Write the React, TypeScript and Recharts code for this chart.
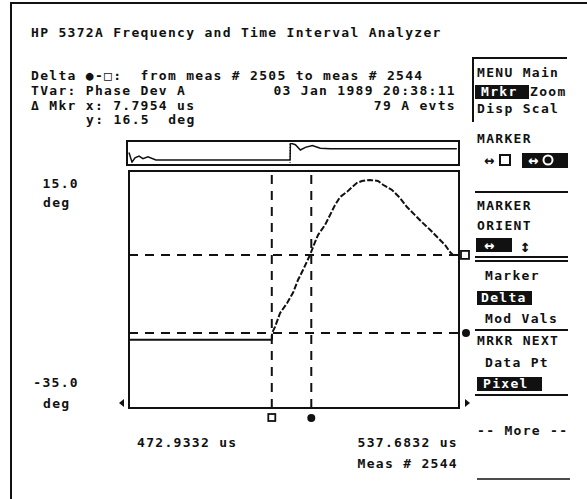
import React from 'react';
import { ComposedChart, LineChart, Line, XAxis, YAxis, ReferenceLine, ReferenceArea } from 'recharts';

// main trace, phase deviation vs time
const flatTimeUs = [472.9332, 500.99];
const flatPhaseDeg = [-20.6, -20.6];
const curveTimeUs = [500.99, 500.99, 501.58, 502.56, 503.93, 505.11, 506.09, 507.07, 508.45, 509.43, 510.02, 511.39, 512.37, 513.35, 514.33, 515.71, 516.69, 517.67, 518.65, 520.22, 521.79, 522.77, 524.54, 526.11, 527.48, 529.05, 530.42, 532.0, 533.56, 534.94, 535.92, 536.9];
const curvePhaseDeg = [-20.6, -19.2, -17.9, -15.0, -12.9, -10.7, -8.0, -5.9, -2.7, 0.0, 1.5, 3.6, 5.7, 7.8, 9.5, 10.6, 11.6, 12.5, 12.9, 13.1, 12.9, 12.1, 11.0, 9.3, 7.4, 5.7, 4.2, 2.6, 0.9, -0.6, -2.1, -3.1];

// axis range and tick labels
const xTicks = [472.9332, 537.6832];
const yTicks = [15, -35];
const xTickLabels = ['472.9332 us', '537.6832 us'];
const yTickLabels = ['15.0', '-35.0'];
const lastMeasLabel = 'Meas # 2544';

// marker crosshairs
const squareTimeUs = 500.95;
const circleTimeUs = 508.7;
const squareDeg = -2.7;
const circleDeg = -19.2;

// overview strip (whole record)
const overviewMeas = [15, 62, 108, 170, 231, 308, 431, 2505, 2510, 2587, 2664, 2741, 2849, 2972, 3126, 5082];
const overviewDeg = [-8.7, -37.4, -24.3, -19.1, -27, -21.7, -31, -31, 20, 14.8, -0.9, 7, 12.2, 4.3, 3, 3];
const windowStartMeas = 2505;

const mainRows = [
  ...flatTimeUs.map((t, i) => ({ t, flat: flatPhaseDeg[i] })),
  ...curveTimeUs.map((t, i) => ({ t, curve: curvePhaseDeg[i] })),
];
const overviewRows = overviewMeas.map((m, i) => ({ m, deg: overviewDeg[i] }));

const FONT = '"DejaVu Sans Mono", monospace';
const INK = '#111';

const T = ({ x, y, children, anchor = 'start', fill = INK, size = 13 }: any) => (
  <text x={x} y={y} textAnchor={anchor} fill={fill} fontFamily={FONT} fontWeight="bold" fontSize={size}
    letterSpacing={1.3} style={{ whiteSpace: 'pre' }}>{children}</text>
);

const XTick = ({ x, y, payload }: any) => {
  const first = payload.value === xTicks[0];
  const label = xTickLabels[xTicks.indexOf(payload.value)];
  return first ? (
    <T x={x + 8} y={y + 39}>{label}</T>
  ) : (
    <g>
      <T x={x - 1} y={y + 39} anchor="end">{label}</T>
      <T x={x - 1} y={y + 60} anchor="end">{lastMeasLabel}</T>
    </g>
  );
};

const YTick = ({ x, y, payload }: any) => {
  const top = payload.value === yTicks[0];
  const label = yTickLabels[yTicks.indexOf(payload.value)];
  return (
    <g>
      <T x={x - 50} y={top ? y + 17 : y - 21} anchor="end">{label}</T>
      <T x={x - 86} y={top ? y + 36 : y}>deg</T>
    </g>
  );
};

const SquareBelow = ({ viewBox }: any) => (
  <rect x={viewBox.x - 3.5} y={viewBox.y + viewBox.height + 6} width={7} height={7} fill="#fff" stroke={INK} strokeWidth={1.8} />
);
const CircleBelow = ({ viewBox }: any) => (
  <circle cx={viewBox.x} cy={viewBox.y + viewBox.height + 10} r={4} fill={INK} />
);
const SquareRight = ({ viewBox }: any) => (
  <rect x={viewBox.x + viewBox.width + 2} y={viewBox.y - 4} width={8} height={8} fill="#fff" stroke={INK} strokeWidth={1.8} />
);
const CircleRight = ({ viewBox }: any) => (
  <circle cx={viewBox.x + viewBox.width + 7} cy={viewBox.y} r={4} fill={INK} />
);

const Screen = () => (
  <svg width={587} height={499} style={{ position: 'absolute', left: 0, top: 0, pointerEvents: 'none' }}>
    <path d="M11 499 V3 H587" fill="none" stroke={INK} strokeWidth={2} />

    <T x={31} y={37}>HP 5372A Frequency and Time Interval Analyzer</T>
    <T x={31} y={80}>{'Delta ●-□:  from meas # 2505 to meas # 2544'}</T>
    <T x={31} y={95}>TVar: Phase Dev A</T>
    <T x={456} y={95} anchor="end">03 Jan 1989 20:38:11</T>
    <T x={31} y={110}>Δ Mkr x: 7.7954 us</T>
    <T x={456} y={110} anchor="end">79 A evts</T>
    <T x={86} y={124}>{'y: 16.5  deg'}</T>

    <polygon points="119,403 124,399 124,407" fill={INK} />
    <polygon points="470,403 465,399 465,407" fill={INK} />

    {/* softkey menu */}
    <path d="M473 122 V58 H567" fill="none" stroke={INK} strokeWidth={2} />
    <T x={477} y={77}>MENU Main</T>
    <rect x={475} y={85} width={54} height={14} fill={INK} />
    <T x={481} y={96} fill="#fff">Mrkr</T>
    <T x={530} y={96}>Zoom</T>
    <T x={477} y={113}>Disp Scal</T>
    <T x={477} y={143}>MARKER</T>
    <T x={484} y={166} size={17}>↔</T>
    <rect x={500} y={155} width={10} height={10} fill="#fff" stroke={INK} strokeWidth={2} />
    <rect x={522} y={153} width={46} height={15} fill={INK} />
    <T x={528} y={166} fill="#fff" size={17}>↔</T>
    <circle cx={548} cy={160} r={4.5} fill="none" stroke="#fff" strokeWidth={2} />
    <line x1={475} x2={568} y1={192} y2={192} stroke={INK} strokeWidth={2} />
    <T x={477} y={210}>MARKER</T>
    <T x={477} y={230}>ORIENT</T>
    <rect x={476} y={238} width={36} height={14} fill={INK} />
    <T x={484} y={251} fill="#fff" size={17}>↔</T>
    <T x={520} y={252} size={17}>↕</T>
    <line x1={475} x2={568} y1={257} y2={257} stroke={INK} strokeWidth={2} />
    <line x1={475} x2={568} y1={261} y2={261} stroke={INK} strokeWidth={2} />
    <T x={485} y={280}>Marker</T>
    <rect x={477} y={291} width={55} height={14} fill={INK} />
    <T x={481} y={302} fill="#fff">Delta</T>
    <T x={485} y={323}>Mod Vals</T>
    <line x1={475} x2={568} y1={330} y2={330} stroke={INK} strokeWidth={2} />
    <T x={477} y={345}>MRKR NEXT</T>
    <T x={485} y={367}>Data Pt</T>
    <rect x={477} y={377} width={65} height={14} fill={INK} />
    <T x={483} y={388} fill="#fff">Pixel</T>
    <line x1={475} x2={568} y1={395} y2={395} stroke={INK} strokeWidth={2} />
    <T x={477} y={435}>-- More --</T>
    <line x1={477} x2={570} y1={479} y2={479} stroke={INK} strokeWidth={1.5} />
  </svg>
);

export default function App() {
  return (
    <div style={{ position: 'absolute', left: 0, top: 0, width: 587, height: 499, background: '#fff', overflow: 'hidden' }}>
      <ComposedChart width={587} height={499} data={mainRows} margin={{ top: 171, right: 128, bottom: 31, left: 39 }}>
        <XAxis type="number" dataKey="t" domain={[xTicks[0], xTicks[1]]} ticks={xTicks} interval={0} tick={<XTick />}
          tickLine={false} axisLine={false} tickSize={0} tickMargin={0} height={60} allowDataOverflow />
        <YAxis type="number" domain={[yTicks[1], yTicks[0]]} ticks={yTicks} interval={0} tick={<YTick />}
          tickLine={false} axisLine={false} tickSize={0} tickMargin={0} width={90} allowDataOverflow />
        <ReferenceArea x1={xTicks[0]} x2={xTicks[1]} y1={yTicks[1]} y2={yTicks[0]} fill="none" fillOpacity={0}
          stroke={INK} strokeWidth={2} strokeOpacity={1} />
        <ReferenceLine x={squareTimeUs} stroke={INK} strokeWidth={2} strokeDasharray="9 7" label={<SquareBelow />} />
        <ReferenceLine x={circleTimeUs} stroke={INK} strokeWidth={2} strokeDasharray="9 7" label={<CircleBelow />} />
        <ReferenceLine y={squareDeg} stroke={INK} strokeWidth={2} strokeDasharray="9 7" label={<SquareRight />} />
        <ReferenceLine y={circleDeg} stroke={INK} strokeWidth={2} strokeDasharray="9 7" label={<CircleRight />} />
        <Line dataKey="flat" stroke={INK} strokeWidth={2} dot={false} isAnimationActive={false} connectNulls={false} />
        <Line dataKey="curve" stroke={INK} strokeWidth={2} strokeDasharray="6 2" dot={false} isAnimationActive={false} connectNulls={false} />
      </ComposedChart>

      <div style={{ position: 'absolute', left: 126, top: 140, width: 330, height: 22, border: `2px solid ${INK}` }}>
        <LineChart width={330} height={22} data={overviewRows} margin={{ top: 1, right: 0, bottom: 1, left: 0 }}>
          <XAxis type="number" dataKey="m" domain={[0, 5100]} hide />
          <YAxis type="number" domain={[-40, 20]} hide allowDataOverflow />
          <ReferenceLine x={windowStartMeas} stroke="#666" strokeWidth={1.5} strokeDasharray="1 2" />
          <Line dataKey="deg" stroke={INK} strokeWidth={1.5} dot={false} isAnimationActive={false} />
        </LineChart>
      </div>

      <Screen />
    </div>
  );
}
